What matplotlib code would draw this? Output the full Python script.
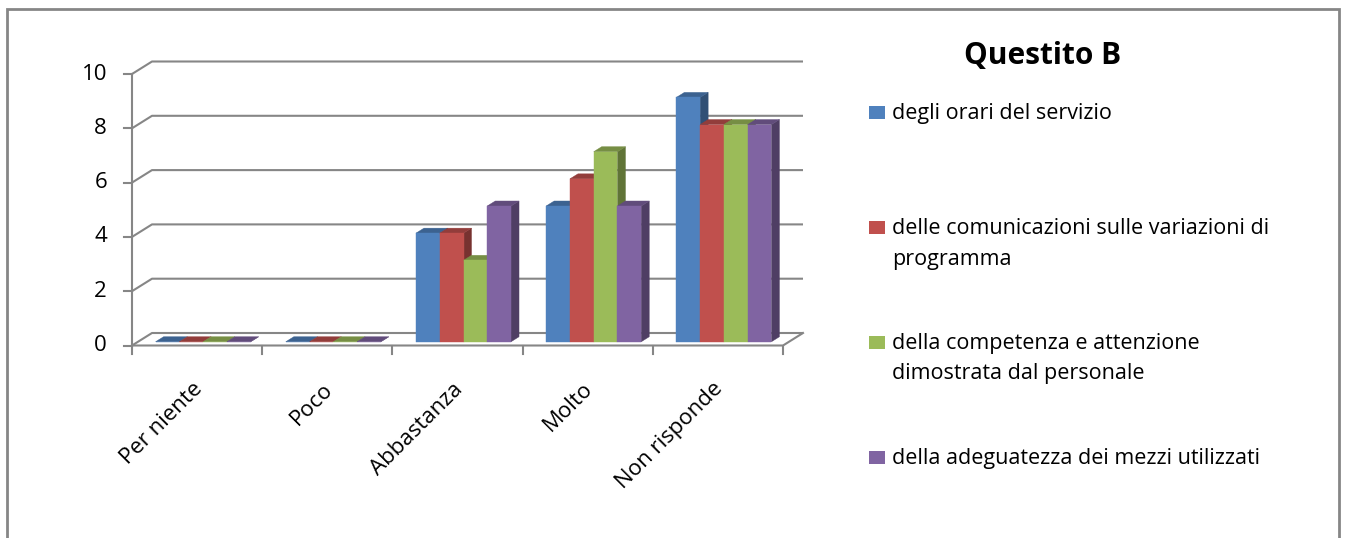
import numpy as np
import matplotlib
matplotlib.use("Agg")
import matplotlib.pyplot as plt
from matplotlib.patches import Polygon, Rectangle
from matplotlib.colors import to_rgb

# survey answers, one list per question item
categories = ["Per niente", "Poco", "Abbastanza", "Molto", "Non risponde"]
orari = [0, 0, 4, 5, 9]
comunicazioni = [0, 0, 4, 6, 8]
competenza = [0, 0, 3, 7, 8]
mezzi = [0, 0, 5, 5, 8]
series_names = [
    ["degli orari del servizio"],
    ["delle comunicazioni sulle variazioni di", "programma"],
    ["della competenza e attenzione", "dimostrata dal personale"],
    ["della adeguatezza dei mezzi utilizzati"],
]
yticks = [0, 2, 4, 6, 8, 10]
colors = ["#4F81BD", "#C0504D", "#9BBB59", "#8064A2"]
title = "Questito B"

W, H = 1345, 538
plt.rcParams["font.family"] = ["Open Sans", "DejaVu Sans"]
fig = plt.figure(figsize=(W / 100, H / 100), dpi=100)


def fx(x):
    return x / W


def fy(y):
    return 1 - y / H


# plot area: x 0..5 over pixels 132..783, y 0..10 over pixels 345.5..74
ax = fig.add_axes([fx(132), fy(345.5), fx(783) - fx(132), fy(74) - fy(345.5)])
ax.set_xlim(0, 5)
ax.set_ylim(0, 10)
ax.axis("off")

px_x = 651 / 5.0
px_y = 271.5 / 10.0
DX = 20 / px_x      # depth offset of the back wall
DY = 12.5 / px_y
grid_c = "#868686"
lw = 1.5

# back wall gridlines with the short diagonal to the front axis
for t in yticks:
    ax.plot([0, DX, 5 + DX], [t, t + DY, t + DY], color=grid_c, lw=lw,
            clip_on=False, zorder=1, solid_capstyle="butt")
    ax.plot([-8 / px_x, 0], [t, t], color=grid_c, lw=lw, clip_on=False, zorder=1)

# front axis lines
ax.plot([0, 0], [0, 10], color=grid_c, lw=lw, clip_on=False, zorder=4)
ax.plot([0, 5, 5 + DX], [0, 0, DY], color=grid_c, lw=lw, clip_on=False, zorder=4)
for i in range(len(categories) + 1):
    ax.plot([i, i], [0, -8 / px_y], color=grid_c, lw=lw, clip_on=False, zorder=4)


def shade(c, k):
    r, g, b = to_rgb(c)
    return (r * k, g * k, b * k)


# pseudo 3d columns
data = [orari, comunicazioni, competenza, mezzi]
group = 0.73
w = group / len(data)
f0, f1 = 0.3, 0.7
z = 2
for i in range(len(categories)):
    for j, vals in enumerate(data):
        v = vals[i]
        x0 = i + (1 - group) / 2 + j * w
        c = colors[j]
        ax0, ay0 = x0 + f0 * DX, f0 * DY
        bx, by = (f1 - f0) * DX, (f1 - f0) * DY
        front = [(ax0, ay0), (ax0 + w, ay0), (ax0 + w, ay0 + v), (ax0, ay0 + v)]
        top = [(ax0, ay0 + v), (ax0 + w, ay0 + v),
               (ax0 + w + bx, ay0 + v + by), (ax0 + bx, ay0 + v + by)]
        side = [(ax0 + w, ay0), (ax0 + w + bx, ay0 + by),
                (ax0 + w + bx, ay0 + v + by), (ax0 + w, ay0 + v)]
        for poly, col in [(side, shade(c, 0.62)), (top, shade(c, 0.76)), (front, c)]:
            ax.add_patch(Polygon(poly, closed=True, facecolor=col, edgecolor=col,
                                 lw=0.3, zorder=z, clip_on=False))
        z += 1

# tick labels
for t in yticks:
    ax.text(-25 / px_x, t, str(t), ha="right", va="center", fontsize=16,
            color="black", clip_on=False)
for i, name in enumerate(categories):
    fig.text(fx(132 + (i + 0.5) * px_x + 2), fy(386), name, rotation=45,
             rotation_mode="anchor", ha="right", va="center", fontsize=16)

# title and legend
fig.text(fx(1043), fy(56), title, ha="center", va="center", fontsize=21.5,
         fontweight="bold")
baselines = [[119], [234, 265], [349, 379], [464]]
for j, lines in enumerate(series_names):
    b0 = baselines[j][0]
    fig.add_artist(Rectangle((fx(869), fy(b0)), fx(16), 13 / H,
                             transform=fig.transFigure, facecolor=colors[j],
                             edgecolor="none"))
    for line, b in zip(lines, baselines[j]):
        fig.text(fx(892), fy(b), line, ha="left", va="baseline", fontsize=15.5)

# chart border
fig.add_artist(Rectangle((fx(7), -0.05), fx(1332), fy(9) + 0.05,
                         transform=fig.transFigure, facecolor="none",
                         edgecolor=grid_c, lw=2))

fig.savefig("out.png", dpi=100)
